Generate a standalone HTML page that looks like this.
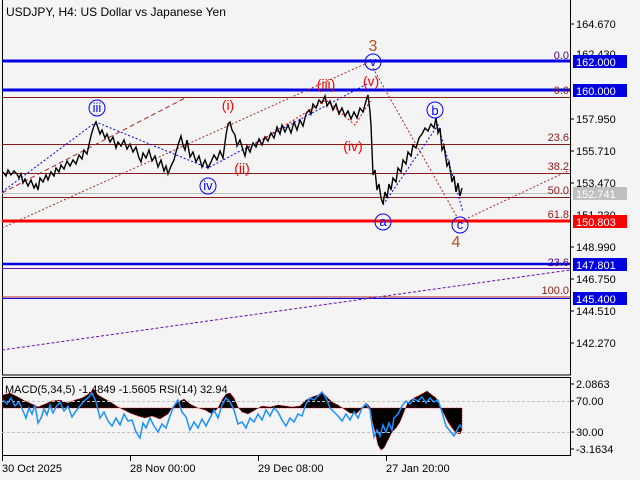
<!DOCTYPE html>
<html><head><meta charset="utf-8"><style>
body{margin:0;background:#f4f4f4;}
svg{display:block;font-family:"Liberation Sans",sans-serif;}
</style></head><body>
<svg width="640" height="480" xmlns="http://www.w3.org/2000/svg">
<rect width="640" height="480" fill="#f4f4f4"/>
<g fill="none" stroke="#000" stroke-width="1">
 <rect x="2.5" y="-0.5" width="568" height="375.5"/>
 <rect x="2.5" y="377.5" width="568" height="78"/>
</g>
<!-- horizontal levels -->
<g>
 <line x1="2" y1="61" x2="570" y2="61" stroke="#0000e0" stroke-width="3"/>
 <line x1="2" y1="90" x2="570" y2="90" stroke="#0000e0" stroke-width="3"/>
 <line x1="2" y1="97.5" x2="570" y2="97.5" stroke="#8b1a1a"/>
 <line x1="2" y1="144.5" x2="570" y2="144.5" stroke="#8b1a1a"/>
 <line x1="2" y1="173.5" x2="570" y2="173.5" stroke="#8b1a1a"/>
 <line x1="2" y1="193.5" x2="570" y2="193.5" stroke="#c0c0c0"/>
 <line x1="2" y1="197.5" x2="570" y2="197.5" stroke="#8b1a1a"/>
 <line x1="2" y1="221" x2="570" y2="221" stroke="#ff0000" stroke-width="3"/>
 <line x1="2" y1="264" x2="570" y2="264" stroke="#0000e0" stroke-width="2.5"/>
 <line x1="2" y1="268.5" x2="570" y2="268.5" stroke="#6a0dad"/>
 <line x1="2" y1="297" x2="570" y2="297" stroke="#b22222"/>
 <line x1="2" y1="298.5" x2="570" y2="298.5" stroke="#0000e0"/>
</g>
<g font-size="11" text-anchor="end">
 <text x="569" y="59" fill="#4b0082">0.0</text>
 <text x="569" y="94" fill="#8b1a1a">0.0</text>
 <text x="569" y="141" fill="#8b1a1a">23.6</text>
 <text x="569" y="170" fill="#8b1a1a">38.2</text>
 <text x="569" y="194" fill="#8b1a1a">50.0</text>
 <text x="569" y="218" fill="#8b1a1a">61.8</text>
 <text x="569" y="266" fill="#4b0082">23.6</text>
 <text x="569" y="294" fill="#8b1a1a">100.0</text>
</g>
<g fill="none" stroke-width="1">
 <line x1="2" y1="228" x2="367" y2="63" stroke="#a52a2a" stroke-dasharray="2,2"/>
 <line x1="2" y1="193" x2="187" y2="97" stroke="#a52a2a" stroke-dasharray="5,3"/>
 <line x1="373" y1="68" x2="457" y2="217" stroke="#a52a2a" stroke-dasharray="2,2"/>
 <line x1="468" y1="218" x2="570" y2="170" stroke="#a52a2a" stroke-dasharray="2,2"/>
 <line x1="2" y1="350" x2="570" y2="270" stroke="#6a0dad" stroke-dasharray="3,2"/>
 <polyline points="2,192 96,122 208,168 367,84" stroke="#0000ff" stroke-dasharray="2,2"/>
 <polyline points="383,205 438,125 463,212" stroke="#0000ff" stroke-dasharray="2,2"/>
 <polyline points="245,150 326,100 355,125 371,100" stroke="#ff0000" stroke-dasharray="2,2"/>
</g>
<!-- price -->
<polyline fill="none" stroke="#000" stroke-width="1.4" points="3,172 6,176 8,170 11,175 14,171 17,174 19,178 21,174 23,183 25,179 28,186 31,180 34,188 36,184 38,190 40,178 43,182 46,175 48,180 51,172 54,176 56,168 59,172 61,165 64,169 67,161 70,166 73,160 76,164 79,155 82,159 84,150 87,154 90,140 92,132 94,126 96,122 98,128 100,134 102,130 105,138 107,134 110,142 113,137 116,148 118,142 121,146 124,140 127,149 130,144 133,152 136,147 139,158 141,162 143,153 146,158 149,150 152,161 155,156 158,167 161,160 164,171 166,166 168,174 171,166 174,160 176,152 179,142 181,136 183,145 185,150 187,140 190,157 193,152 196,162 199,156 202,167 205,160 208,168 211,162 214,155 217,160 220,151 223,158 226,135 228,124 230,122 232,130 235,135 237,146 240,140 243,150 245,156 247,146 250,152 253,143 256,147 259,139 262,145 265,137 268,141 271,133 274,138 277,127 280,134 282,125 285,132 288,125 291,133 294,122 297,130 300,120 303,126 306,114 309,110 311,114 313,104 316,108 319,100 322,103 325,96 327,106 330,101 333,110 336,104 339,114 342,108 345,116 348,111 351,119 354,112 357,118 360,108 363,112 366,101 368,95 370,112 371,125 372,150 373,175 375,170 377,190 379,184 381,198 383,204 385,192 387,198 389,184 391,190 393,178 396,182 398,168 401,172 403,160 406,164 408,152 411,156 413,145 416,148 419,138 422,134 425,128 428,131 431,124 434,128 436,118 438,133 440,128 442,150 444,146 447,166 449,162 452,182 454,176 456,192 458,183 460,196 462,188"/>
<!-- wave labels -->
<g fill="none" stroke="#0000ff">
 <circle cx="97" cy="108" r="8"/><circle cx="208" cy="186" r="8"/>
 <circle cx="373" cy="62" r="8"/><circle cx="383" cy="222" r="8"/>
 <circle cx="435" cy="110" r="8"/><circle cx="460" cy="225" r="8"/>
</g>
<g font-size="13" fill="#0000ff" text-anchor="middle">
 <text x="97" y="112">iii</text><text x="208" y="190">iv</text>
 <text x="373" y="66">v</text><text x="383" y="226">a</text>
 <text x="435" y="115">b</text><text x="460" y="229">c</text>
</g>
<g font-size="14" fill="#ff0000" text-anchor="middle">
 <text x="228" y="110">(i)</text><text x="242" y="173">(ii)</text>
 <text x="326" y="89">(iii)</text><text x="371" y="86">(v)</text>
 <text x="353" y="151">(iv)</text>
</g>
<g font-size="16" fill="#b05020" text-anchor="middle">
 <text x="373" y="51">3</text><text x="456" y="247">4</text>
</g>
<text x="6" y="16" font-size="12" fill="#000">USDJPY, H4:  US Dollar vs Japanese Yen</text>
<!-- right axis -->
<g font-size="11" fill="#000">
 <g stroke="#000"><line x1="570" y1="24" x2="574" y2="24"/><line x1="570" y1="119" x2="574" y2="119"/><line x1="570" y1="151" x2="574" y2="151"/><line x1="570" y1="183" x2="574" y2="183"/><line x1="570" y1="247" x2="574" y2="247"/><line x1="570" y1="279" x2="574" y2="279"/><line x1="570" y1="311" x2="574" y2="311"/><line x1="570" y1="343" x2="574" y2="343"/></g>
 <text x="576" y="28">164.670</text><text x="576" y="58">162.430</text>
 <text x="576" y="123">157.950</text><text x="576" y="155">155.710</text>
 <text x="576" y="187">153.470</text><text x="576" y="219">151.230</text>
 <text x="576" y="251">148.990</text><text x="576" y="283">146.750</text>
 <text x="576" y="315">144.510</text><text x="576" y="347">142.270</text>
</g>
<g font-size="11" fill="#fff">
 <rect x="573" y="55" width="54" height="13" fill="#0000e0"/><text x="576" y="66">162.000</text>
 <rect x="573" y="84" width="54" height="13" fill="#0000e0"/><text x="576" y="95">160.000</text>
 <rect x="573" y="187" width="54" height="13" fill="#c0c0c0"/><text x="576" y="198">152.741</text>
 <rect x="573" y="215" width="54" height="13" fill="#ff0000"/><text x="576" y="226">150.803</text>
 <rect x="573" y="258" width="54" height="13" fill="#0000e0"/><text x="576" y="269">147.801</text>
 <rect x="573" y="292" width="54" height="13" fill="#0000e0"/><text x="576" y="303">145.400</text>
</g>
<!-- MACD -->
<path fill="#000" stroke="#ff0000" stroke-width="0.6" stroke-dasharray="2,1" d="M3,408 L3,395 L10,393 L18,397 L25,401 L32,404 L38,407 L45,404 L52,401 L60,400 L68,403 L75,400 L82,398 L90,393 L94,389 L98,395 L105,399 L112,403 L118,407 L124,410 L130,413 L138,416 L145,418 L152,416 L160,419 L168,414 L172,408 L178,402 L184,399 L190,404 L198,408 L205,410 L212,414 L218,408 L222,400 L226,394 L230,393 L234,398 L238,407 L242,412 L248,414 L255,410 L262,406 L270,407 L278,405 L285,406 L292,407 L300,406 L306,400 L312,397 L318,395 L322,392 L326,396 L332,402 L338,405 L344,409 L350,413 L356,414 L362,408 L366,403 L370,407 L372,420 L375,432 L378,445 L381,450 L384,448 L388,440 L392,432 L396,428 L400,422 L404,412 L408,402 L414,398 L420,395 L427,391 L432,395 L436,398 L440,406 L444,414 L448,422 L452,428 L456,433 L460,434 L462,430 L462,408 Z"/>
<line x1="2" y1="401.5" x2="570" y2="401.5" stroke="#c0c0c0" stroke-dasharray="3,2"/>
<line x1="2" y1="432.5" x2="570" y2="432.5" stroke="#c0c0c0" stroke-dasharray="3,2"/>
<polyline fill="none" stroke="#1e90ff" stroke-width="1.5" points="3,400 7,404 11,398 15,406 19,402 23,411 26,418 29,408 32,414 35,405 38,423 41,418 44,409 47,415 50,405 53,413 56,407 60,402 64,411 68,406 72,417 76,411 80,406 84,401 88,398 92,393 96,402 100,418 104,412 108,421 112,426 116,418 120,425 124,414 128,421 132,420 136,432 140,438 143,423 146,428 150,418 154,426 158,432 162,424 166,428 170,416 174,406 178,400 182,412 186,417 190,430 194,422 198,428 202,419 206,426 210,418 214,410 218,418 222,405 226,398 230,402 234,410 238,424 242,422 246,428 250,418 254,422 258,414 262,420 266,410 270,416 274,408 278,412 282,420 286,426 290,418 294,422 298,414 302,416 306,404 310,398 314,400 318,396 322,392 326,398 330,408 334,412 338,416 342,421 346,414 350,420 354,412 358,418 362,408 366,404 370,410 372,425 374,437 377,430 380,436 383,425 386,432 389,423 392,430 394,418 398,414 402,406 406,401 410,404 414,399 418,401 422,397 426,403 430,398 434,402 438,400 442,412 446,426 450,431 454,436 457,430 460,425 462,428"/>
<text x="5" y="393" font-size="11" fill="#000">MACD(5,34,5) -1.4849 -1.5605 RSI(14) 32.94</text>
<g font-size="11" fill="#000">
 <g stroke="#000"><line x1="570" y1="384" x2="574" y2="384"/><line x1="570" y1="401" x2="574" y2="401"/><line x1="570" y1="432" x2="574" y2="432"/><line x1="570" y1="449" x2="574" y2="449"/></g>
 <text x="576" y="388">2.0863</text><text x="576" y="405">70.00</text>
 <text x="576" y="436">30.00</text><text x="576" y="453">-3.1634</text>
</g>
<g font-size="11" fill="#000">
 <g stroke="#000"><line x1="2.5" y1="456" x2="2.5" y2="461"/><line x1="130.5" y1="456" x2="130.5" y2="461"/><line x1="258.5" y1="456" x2="258.5" y2="461"/><line x1="386.5" y1="456" x2="386.5" y2="461"/></g>
 <text x="2" y="472">30 Oct 2025</text><text x="130" y="472">28 Nov 00:00</text>
 <text x="258" y="472">29 Dec 08:00</text><text x="386" y="472">27 Jan 20:00</text>
</g>
</svg>
</body></html>
